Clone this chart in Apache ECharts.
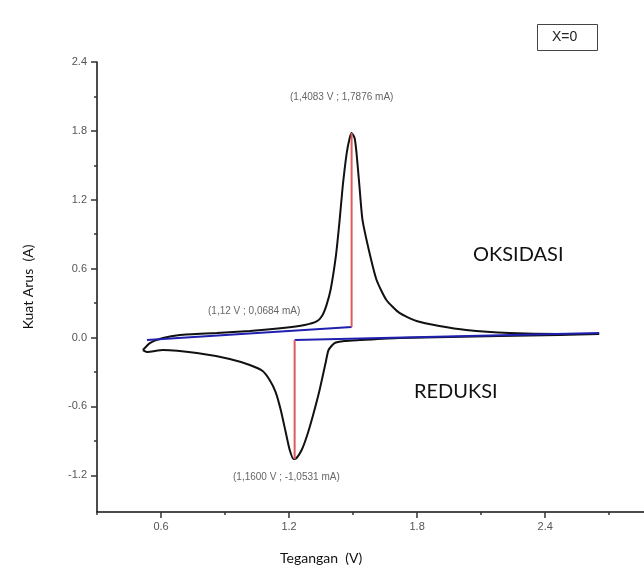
<!DOCTYPE html>
<html><head><meta charset="utf-8">
<script src="https://cdn.jsdelivr.net/npm/echarts@6/dist/echarts.min.js"></script>
<style>html,body{margin:0;padding:0;background:#fff}#c{width:644px;height:579px}</style>
</head><body><div id="c"></div>
<script>
// Cyclic voltammogram (forward scan then reverse scan), V and current
const scanVoltage = [0.515,0.548,0.609,0.688,0.861,1.016,1.170,1.273,1.329,1.355,1.375,1.395,1.420,1.437,1.451,1.470,1.484,1.493,1.507,1.516,1.530,1.544,1.577,1.610,1.656,1.717,1.797,1.904,2.030,2.232,2.466,2.653,
  2.466,2.185,1.951,1.717,1.530,1.460,1.413,1.385,1.371,1.343,1.310,1.282,1.259,1.235,1.221,1.203,1.184,1.161,1.137,1.109,1.076,1.016,0.922,0.768,0.609,0.534,0.515];
const scanCurrent = [-0.109,-0.048,-0.004,0.022,0.039,0.057,0.083,0.109,0.140,0.190,0.280,0.420,0.720,1.024,1.311,1.607,1.738,1.782,1.738,1.607,1.311,1.024,0.736,0.501,0.327,0.214,0.144,0.100,0.065,0.039,0.030,0.030,
  0.022,0.013,0.004,-0.004,-0.022,-0.030,-0.048,-0.109,-0.222,-0.457,-0.692,-0.867,-0.980,-1.050,-1.058,-0.980,-0.823,-0.631,-0.475,-0.370,-0.292,-0.240,-0.187,-0.135,-0.109,-0.126,-0.109];
const oxBaselineV = [0.534, 1.493];
const oxBaselineI = [-0.022, 0.092];
const redBaselineV = [1.226, 2.653];
const redBaselineI = [-0.022, 0.039];
const oxPeakV = [1.493, 1.493];
const oxPeakI = [0.092, 1.782];
const redPeakV = [1.226, 1.226];
const redPeakI = [-0.022, -1.058];
const xTickLabels = [0.6, 1.2, 1.8, 2.4];
const xMinorTicks = [0.3, 0.9, 1.5, 2.1, 2.7];
const yTickLabels = [-1.2, -0.6, 0.0, 0.6, 1.2, 1.8, 2.4];
const yMinorTicks = [-0.9, -0.3, 0.3, 0.9, 1.5, 2.1];
const annotations = ['(1,4083 V ; 1,7876 mA)', '(1,12 V ; 0,0684 mA)', '(1,1600 V ; -1,0531 mA)'];

const pairs = (xs, ys) => xs.map((x, i) => [x, ys[i]]);
const X_MIN = 0.3, X_MAX = 2.863, Y_MIN = -1.52, Y_MAX = 2.4;
const lblStyle = {color: '#555', fontFamily: 'Liberation Sans, Arial', fontSize: 11};

const chart = echarts.init(document.getElementById('c'), null, {renderer: 'canvas'});
chart.setOption({
  animation: false,
  backgroundColor: '#fff',
  grid: {left: 97, top: 62, right: 0, bottom: 67, containLabel: false},
  xAxis: [{
    type: 'value', min: X_MIN, max: X_MAX,
    axisLine: {show: true, onZero: false, lineStyle: {color: '#111', width: 1.5}},
    axisTick: {show: true, length: 6, customValues: xTickLabels, lineStyle: {color: '#333', width: 1.5}},
    axisLabel: Object.assign({customValues: xTickLabels, margin: 9, formatter: v => v.toFixed(1)}, lblStyle),
    splitLine: {show: false}
  }, {
    type: 'value', min: X_MIN, max: X_MAX, position: 'bottom',
    axisLine: {show: false, onZero: false},
    axisTick: {show: true, length: 3, customValues: xMinorTicks, lineStyle: {color: '#333', width: 1.5}},
    axisLabel: {show: false}, splitLine: {show: false}
  }],
  yAxis: [{
    type: 'value', min: Y_MIN, max: Y_MAX,
    axisLine: {show: true, onZero: false, lineStyle: {color: '#111', width: 1.5}},
    axisTick: {show: true, length: 6, customValues: yTickLabels, lineStyle: {color: '#333', width: 1.5}},
    axisLabel: Object.assign({customValues: yTickLabels, margin: 10, formatter: v => v.toFixed(1)}, lblStyle),
    splitLine: {show: false},
    name: 'Kuat Arus  (A)', nameLocation: 'middle', nameGap: 62, nameRotate: 90,
    nameTextStyle: {fontFamily: 'Lato', fontSize: 14, color: '#111'}
  }, {
    type: 'value', min: Y_MIN, max: Y_MAX, position: 'left',
    axisLine: {show: false, onZero: false},
    axisTick: {show: true, length: 3, customValues: yMinorTicks, lineStyle: {color: '#333', width: 1.5}},
    axisLabel: {show: false}, splitLine: {show: false}
  }],
  series: [
    {type: 'line', data: pairs(oxBaselineV, oxBaselineI), showSymbol: false, lineStyle: {color: '#2020b0', width: 2}, z: 3},
    {type: 'line', data: pairs(redBaselineV, redBaselineI), showSymbol: false, lineStyle: {color: '#2020b0', width: 2}, z: 3},
    {type: 'line', data: pairs(scanVoltage, scanCurrent), showSymbol: false, smooth: 0.2, lineStyle: {color: '#111', width: 2}, z: 2},
    {type: 'line', data: pairs(oxPeakV, oxPeakI), showSymbol: false, lineStyle: {color: '#e05a5a', width: 2}, z: 4},
    {type: 'line', data: pairs(redPeakV, redPeakI), showSymbol: false, lineStyle: {color: '#e05a5a', width: 2}, z: 4}
  ],
  graphic: [
    {type: 'text', left: 290, top: 92, style: {text: annotations[0], fill: '#666', font: '10px Liberation Sans'}},
    {type: 'text', left: 208, top: 306, style: {text: annotations[1], fill: '#666', font: '10px Liberation Sans'}},
    {type: 'text', left: 233, top: 472, style: {text: annotations[2], fill: '#666', font: '10px Liberation Sans'}},
    {type: 'text', left: 473, top: 245, style: {text: 'OKSIDASI', fill: '#111', font: '20px Lato'}},
    {type: 'text', left: 414, top: 382, style: {text: 'REDUKSI', fill: '#111', font: '20px Lato'}},
    {type: 'text', left: 280, top: 551, style: {text: 'Tegangan  (V)', fill: '#111', font: '14px Lato'}},
    {type: 'rect', left: 537, top: 24, shape: {width: 60, height: 26}, style: {fill: '#fff', stroke: '#444', lineWidth: 1}},
    {type: 'text', left: 552, top: 30, style: {text: 'X=0', fill: '#222', font: '14px Liberation Sans'}}
  ]
});
</script></body></html>
